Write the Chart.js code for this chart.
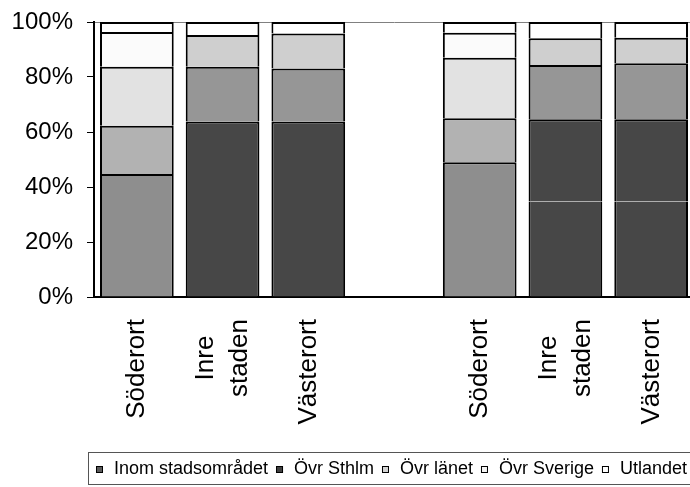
<!DOCTYPE html>
<html>
<head>
<meta charset="utf-8">
<script src="https://cdn.jsdelivr.net/npm/chart.js@4/dist/chart.umd.min.js"></script>
<style>
  html, body { margin: 0; padding: 0; background: #fff; overflow: hidden; }
  #wrap { width: 700px; height: 487px; }
</style>
</head>
<body>
<div id="wrap"><canvas id="chart" width="700" height="487"></canvas></div>
<script>
// Categories, the empty 4th slot is the gap between the two groups
const categories = ['Söderort', ['Inre', 'staden'], 'Västerort', '', 'Söderort', ['Inre', 'staden'], 'Västerort'];

// Shares in percent
const inomStadsomradet = [44.7, 35.3, 35.3, null, 49.0, 34.7, 34.7];
const ovrSthlm = [17.6, 28.5, 28.5, null, 16.0, 29.9, 29.9];
const ovrLanet = [21.4, 19.9, 19.3, null, 22.0, 19.8, 20.4];
const ovrSverige = [12.7, 11.6, 12.7, null, 9.1, 9.7, 9.3];
const utlandet = [3.6, 4.7, 4.2, null, 3.9, 5.9, 5.7];

const seriesNames = ['Inom stadsområdet', 'Övr Sthlm', 'Övr länet', 'Övr Sverige', 'Utlandet'];
const seriesValues = [inomStadsomradet, ovrSthlm, ovrLanet, ovrSverige, utlandet];
const yTicks = [0, 20, 40, 60, 80, 100];

// Grey shades as they come out in the scan
const shadeSoder = ['#8e8e8e', '#b2b2b2', '#e2e2e2', '#fbfbfb', '#ffffff'];
const shadeOther = ['#474747', '#474747', '#969696', '#cfcfcf', '#ffffff'];
const legendSwatch = ['#5a5a5a', '#404040', '#d4d4d4', '#f4f4f4', '#ffffff'];

const FONT = '"Liberation Sans", Arial, sans-serif';

// Rotated category labels, multi-line labels centred on the longest line
const xLabels = {
  id: 'xLabels',
  afterDraw(chart) {
    const ctx = chart.ctx;
    const xs = chart.scales.x;
    const labelTop = chart.chartArea.bottom + 22;
    ctx.save();
    ctx.font = '26px ' + FONT;
    ctx.fillStyle = '#000';
    ctx.textAlign = 'center';
    ctx.textBaseline = 'alphabetic';
    categories.forEach((label, i) => {
      const lines = Array.isArray(label) ? label : [label];
      const w = Math.max(...lines.map(l => ctx.measureText(l).width));
      const mid = xs.getPixelForValue(i);
      lines.forEach((line, j) => {
        const bx = mid + 7.5 + (j - (lines.length - 1) / 2) * 34;
        ctx.save();
        ctx.translate(bx, labelTop + w / 2);
        ctx.rotate(-Math.PI / 2);
        ctx.fillText(line, 0, 0);
        ctx.restore();
      });
    });
    ctx.restore();
  }
};

// Boxed legend along the bottom
const boxLegend = {
  id: 'boxLegend',
  afterDraw(chart) {
    const ctx = chart.ctx;
    const top = chart.height - 34.5;
    const left = 88.5;
    ctx.save();
    ctx.strokeStyle = '#555';
    ctx.lineWidth = 1;
    ctx.strokeRect(left, top, chart.width, 32);

    ctx.font = '18px ' + FONT;
    ctx.textBaseline = 'middle';
    ctx.textAlign = 'left';
    const sw = 7, swGap = 11;
    const widths = seriesNames.map(n => ctx.measureText(n).width);
    const startX = 96, endX = 687;
    const used = widths.reduce((a, b) => a + b, 0) + seriesNames.length * (sw + swGap);
    const gap = (endX - startX - used) / (seriesNames.length - 1);
    const cy = top + 16.5;
    let x = startX;
    seriesNames.forEach((name, i) => {
      ctx.fillStyle = legendSwatch[i];
      ctx.fillRect(x, cy - 3, sw, sw);
      ctx.strokeStyle = '#000';
      ctx.strokeRect(x + 0.5, cy - 2.5, sw - 1, sw - 1);
      ctx.fillStyle = '#000';
      ctx.fillText(name, x + sw + swGap, cy);
      x += sw + swGap + widths[i] + gap;
    });
    ctx.restore();
  }
};

const datasets = seriesNames.map((name, i) => ({
  label: name,
  data: seriesValues[i],
  backgroundColor: categories.map(c => c === 'Söderort' ? shadeSoder[i] : shadeOther[i]),
  borderColor: '#000',
  // each piece draws its own top edge, so every divider is one 2px line;
  // the two dark lower pieces of Inre staden / Västerort run together in the scan
  borderWidth: c => ({
    top: (i === 0 && categories[c.dataIndex] !== 'Söderort') ? 0 : 2,
    bottom: 0, left: 2, right: 2
  }),
  borderSkipped: false,
  barPercentage: 0.86,
  categoryPercentage: 1
}));

const chart = new Chart(document.getElementById('chart'), {
  type: 'bar',
  data: { labels: categories, datasets: datasets },
  options: {
    responsive: false,
    animation: false,
    devicePixelRatio: 1,
    layout: { padding: { top: 22, right: 6, left: 0, bottom: 0 } },
    plugins: {
      legend: { display: false },
      tooltip: { enabled: false }
    },
    scales: {
      x: {
        stacked: true,
        grid: { display: false },
        border: { display: true, color: '#000', width: 2 },
        ticks: { display: false },
        afterFit: s => { s.height = 190; }
      },
      y: {
        stacked: true,
        min: 0,
        max: 100,
        afterBuildTicks: s => { s.ticks = yTicks.map(v => ({ value: v })); },
        ticks: {
          callback: v => v + '%',
          color: '#000',
          padding: 14,
          font: { family: FONT, size: 24 }
        },
        grid: {
          color: c => (c.tick && c.tick.value === 100) ? '#808080' : 'rgba(0,0,0,0)',
          tickColor: '#000',
          tickLength: 7,
          lineWidth: 1
        },
        border: { display: true, color: '#000', width: 2 },
        afterFit: s => { s.width = 94; s.paddingTop = 0; s.paddingBottom = 0; }
      }
    }
  },
  plugins: [xLabels, boxLegend]
});
</script>
</body>
</html>
